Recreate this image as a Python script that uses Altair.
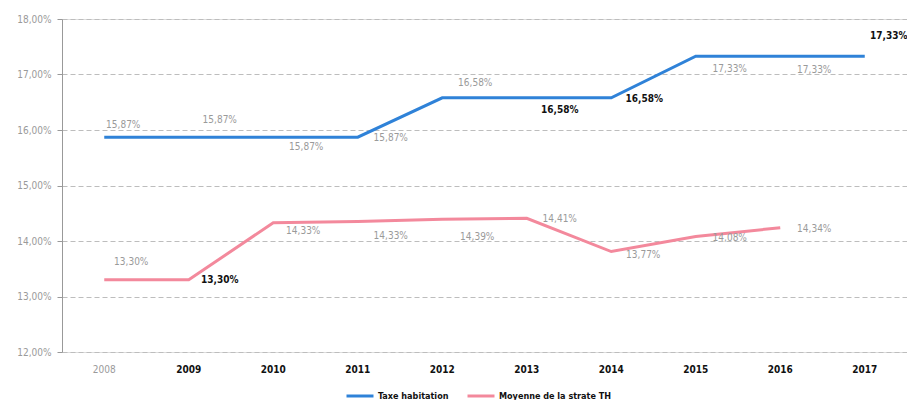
import altair as alt
import pandas as pd

years = [str(y) for y in range(2008, 2018)]
taxe = [15.87, 15.87, 15.87, 15.87, 16.58, 16.58, 16.58, 17.33, 17.33, 17.33]
moyenne = [13.30, 13.30, 14.33, 14.35, 14.39, 14.41, 13.81, 14.08, 14.24]
taxe_labels = ["15,87%", "15,87%", "15,87%", "15,87%", "16,58%", "16,58%", "16,58%", "17,33%", "17,33%", "17,33%"]
moyenne_labels = ["13,30%", "13,30%", "14,33%", "14,33%", "14,39%", "14,41%", "13,77%", "14,08%", "14,34%"]
taxe_bold = [0, 0, 0, 0, 0, 1, 1, 0, 0, 1]
moyenne_bold = [0, 1, 0, 0, 0, 0, 0, 0, 0]
# label offsets from each point (style, pixels)
taxe_dx = [19, 31, 33, 33, 33, 33, 33, 34, 34, 24]
taxe_dy = [-12, -17, 10, 1, -15, 12, 1, 13, 14, -20]
moy_dx = [27, 31, 30, 33, 35, 33, 32, 34, 34]
moy_dy = [-18, 0, 8, 14, 18, 1, 3, 1, 1]

S1 = "Taxe habitation"
S2 = "Moyenne de la strate TH"

rows = []
for i, y in enumerate(years):
    rows.append(dict(annee=y, serie=S1, val=taxe[i], lab=taxe_labels[i], bold=taxe_bold[i], dx=taxe_dx[i], dy=taxe_dy[i]))
for i, v in enumerate(moyenne):
    rows.append(dict(annee=years[i], serie=S2, val=v, lab=moyenne_labels[i], bold=moyenne_bold[i], dx=moy_dx[i], dy=moy_dy[i]))
df = pd.DataFrame(rows)

FONT = "DejaVu Sans Condensed, Liberation Sans, sans-serif"
H = 333
YMIN, YMAX = 12, 18

x = alt.X("annee:N", title=None, sort=years,
          scale=alt.Scale(paddingInner=0, paddingOuter=0),
          axis=alt.Axis(labelAngle=0, domain=False, ticks=False, labelPadding=12,
                        labelFont=FONT, labelFontSize=10,
                        labelColor=alt.ExprRef("datum.value == '2008' ? '#9a9a9a' : '#111111'"),
                        labelFontWeight=alt.ExprRef("datum.value == '2008' ? 'normal' : 'bold'")))
y = alt.Y("val:Q", title=None,
          scale=alt.Scale(domain=[YMIN, YMAX], nice=False, zero=False),
          axis=alt.Axis(values=[12, 13, 14, 15, 16, 17, 18],
                        labelExpr="replace(format(datum.value, '.2f'), '.', ',') + '%'",
                        labelColor="#9a9a9a", labelFont=FONT, labelFontSize=10,
                        labelPadding=6, tickSize=5, tickColor="#999999", domainColor="#999999",
                        gridColor="#bdbdbd", gridDash=[5, 3], gridWidth=1))

color = alt.Color("serie:N", title=None,
                  scale=alt.Scale(domain=[S1, S2], range=["#2f82d8", "#f3899c"]),
                  legend=alt.Legend(orient="none", legendX=283, legendY=362, direction="horizontal",
                                    symbolType="stroke", symbolStrokeWidth=3, symbolSize=729,
                                    labelFont=FONT, labelFontWeight="bold", labelFontSize=9,
                                    labelColor="#111111", columnPadding=12, labelOffset=3))

base = alt.Chart(df).transform_calculate(
    xo="datum.dx + 42.25",
    vy=f"datum.val - datum.dy * {(YMAX - YMIN) / H}",
)
lines = base.mark_line(strokeWidth=3).encode(x=x, y=y, color=color, detail="serie:N")

tenc = dict(
    x=alt.X("annee:N", sort=years),
    y=alt.Y("vy:Q"),
    xOffset=alt.XOffset("xo:Q", scale=None),
    text="lab:N",
)
text_norm = base.transform_filter("datum.bold == 0").mark_text(
    font=FONT, fontSize=10, align="center", baseline="middle", color="#9a9a9a").encode(**tenc)
text_bold = base.transform_filter("datum.bold == 1").mark_text(
    font=FONT, fontSize=10, fontWeight="bold", align="center", baseline="middle", color="#111111").encode(**tenc)

chart = alt.layer(lines, text_norm, text_bold).properties(
    width=845, height=H,
    padding={"left": 54, "top": 11, "right": 0, "bottom": 48},
    autosize="none",
).configure_view(stroke=None).configure(background="white")

chart.save("out.html", embed_options={"renderer": "svg", "actions": False})
